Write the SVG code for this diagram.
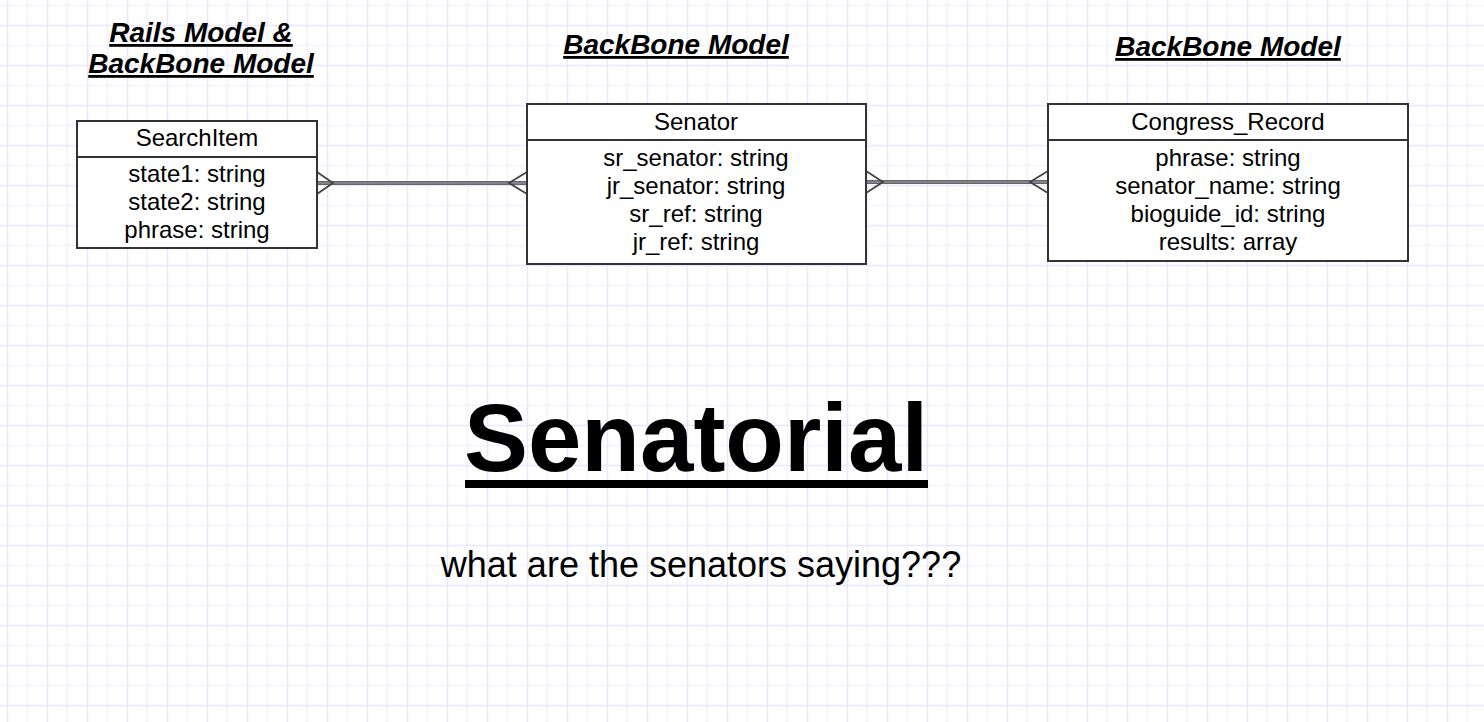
<svg xmlns="http://www.w3.org/2000/svg" width="1484" height="722" viewBox="0 0 1484 722">
<style>
.box{fill:#fff;stroke:#333;stroke-width:2}
.div{stroke:#333;stroke-width:2}
.t{font-family:"Liberation Sans",Arial,sans-serif;font-size:24px;fill:#000;text-anchor:middle}
.title{font-family:"Liberation Sans",Arial,sans-serif;font-size:28px;font-weight:bold;font-style:italic;fill:#000;text-anchor:middle;text-decoration:underline}
.conn{stroke:#666;stroke-width:4;fill:none}
.connin{stroke:#a0a0a0;stroke-width:1;fill:none}
.foot{stroke:#444;stroke-width:1.8;fill:none}
</style>
<defs>
<pattern id="grid" width="40" height="40" patternUnits="userSpaceOnUse">
<rect width="40" height="40" fill="#fff"/>
<line x1="27.5" y1="0" x2="27.5" y2="40" stroke="#f3f2ff" stroke-width="1.5"/>
<line x1="0" y1="5.5" x2="40" y2="5.5" stroke="#f3f2ff" stroke-width="1.5"/>
<line x1="7.5" y1="0" x2="7.5" y2="40" stroke="#e9e7ff" stroke-width="1.5"/>
<line x1="0" y1="25.5" x2="40" y2="25.5" stroke="#e9e7ff" stroke-width="1.5"/>
</pattern>
</defs>
<rect width="1484" height="722" fill="url(#grid)"/>

<g id="titles">
<text class="title" x="201" y="42">Rails Model &amp;</text>
<text class="title" x="201" y="73">BackBone Model</text>
<text class="title" x="676" y="54">BackBone Model</text>
<text class="title" x="1228" y="56">BackBone Model</text>
</g>

<g id="connectors">
<line class="conn" x1="317" y1="183" x2="527" y2="183"/>
<line class="connin" x1="317" y1="183" x2="527" y2="183"/>
<polyline class="foot" points="317,172 333,183 317,194"/>
<polyline class="foot" points="527,172 509,183 527,194"/>
<line class="conn" x1="866" y1="182" x2="1048" y2="182"/>
<line class="connin" x1="866" y1="182" x2="1048" y2="182"/>
<polyline class="foot" points="866,171 883,182 866,193"/>
<polyline class="foot" points="1048,171 1030,182 1048,193"/>
</g>

<g id="SearchItem">
<rect class="box" x="77" y="121" width="240" height="127"/>
<line class="div" x1="77" y1="157" x2="317" y2="157"/>
<text class="t" x="197" y="146">SearchItem</text>
<text class="t" x="197" y="182">state1: string</text>
<text class="t" x="197" y="210">state2: string</text>
<text class="t" x="197" y="238">phrase: string</text>
</g>

<g id="Senator">
<rect class="box" x="527" y="104" width="339" height="160"/>
<line class="div" x1="527" y1="140" x2="866" y2="140"/>
<text class="t" x="696" y="130">Senator</text>
<text class="t" x="696" y="166">sr_senator: string</text>
<text class="t" x="696" y="194">jr_senator: string</text>
<text class="t" x="696" y="222">sr_ref: string</text>
<text class="t" x="696" y="250">jr_ref: string</text>
</g>

<g id="Congress_Record">
<rect class="box" x="1048" y="104" width="360" height="157"/>
<line class="div" x1="1048" y1="140" x2="1408" y2="140"/>
<text class="t" x="1228" y="130">Congress_Record</text>
<text class="t" x="1228" y="166">phrase: string</text>
<text class="t" x="1228" y="194">senator_name: string</text>
<text class="t" x="1228" y="222">bioguide_id: string</text>
<text class="t" x="1228" y="250">results: array</text>
</g>

<g id="heading">
<text x="696" y="471" font-family="'Liberation Sans',Arial,sans-serif" font-size="96" font-weight="bold" text-anchor="middle" fill="#000">Senatorial</text>
<rect x="465" y="480" width="463" height="8" fill="#000"/>
<text x="701" y="577" font-family="'Liberation Sans',Arial,sans-serif" font-size="36" text-anchor="middle" fill="#000">what are the senators saying???</text>
</g>
</svg>
